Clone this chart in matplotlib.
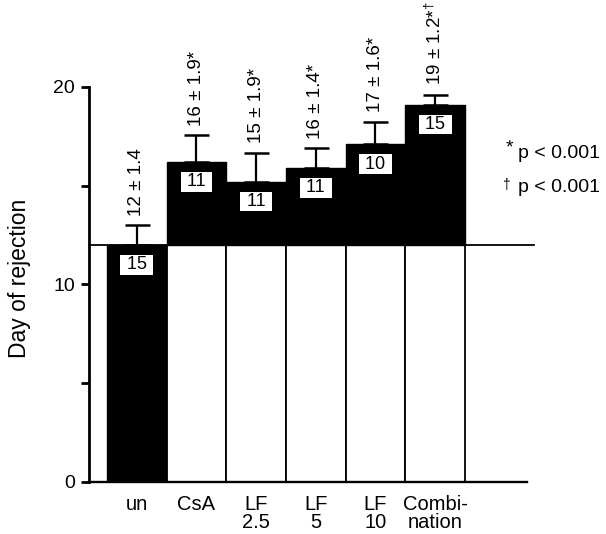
import numpy as np
import matplotlib
matplotlib.use("Agg")
import matplotlib.pyplot as plt

plt.rcParams['font.family'] = ['Liberation Sans', 'DejaVu Sans']
plt.rcParams['mathtext.fontset'] = 'custom'
plt.rcParams['mathtext.rm'] = 'Liberation Sans'
plt.rcParams['mathtext.it'] = 'Liberation Sans:italic'
plt.rcParams['mathtext.default'] = 'regular'

# ---- data ----
categories = ["un", "CsA", "LF\n2.5", "LF\n5", "LF\n10", "Combi-\nnation"]
days = [12.0, 16.2, 15.2, 15.9, 17.1, 19.1]          # bar heights (day of rejection)
err_up = [1.0, 1.35, 1.45, 1.0, 1.15, 0.5]           # drawn error bar (upper)
n_animals = [15, 11, 11, 11, 10, 15]
annotations = ["12 ± 1.4", "16 ± 1.9*", "15 ± 1.9*", "16 ± 1.4*", "17 ± 1.6*",
               "19 ± 1.2*$^{\\dagger}$"]
baseline = days[0]   # untreated mean: reference line

W, H = 606, 534
fig = plt.figure(figsize=(W / 100, H / 100), dpi=100)
ax = fig.add_axes([89 / W, 52 / H, (540 - 89) / W, 482 / H])
ax.set_xlim(-0.80, 6.758)
ax.set_ylim(0, 24.405)

x = np.arange(len(categories))

# bars: untreated fully black; treated white up to baseline, black above
for i, v in enumerate(days):
    if i == 0:
        ax.bar(x[i], v, width=1.0, color='black', edgecolor='black', linewidth=1.0, zorder=2)
    else:
        ax.bar(x[i], baseline, width=1.0, color='white', edgecolor='black', linewidth=1.3, zorder=2)
        ax.bar(x[i], v - baseline, bottom=baseline, width=1.0, color='black',
               edgecolor='black', linewidth=1.0, zorder=2)

# reference line at the untreated mean
ax.plot([-0.80, 6.66], [baseline, baseline], color='black', lw=1.3, zorder=3, clip_on=False)

# error bars
ax.errorbar(x, days, yerr=[np.zeros(len(days)), err_up], fmt='none', ecolor='black',
            elinewidth=1.6, capsize=9, capthick=1.8, zorder=4)

# n labels in white boxes
for xi, v, n in zip(x, days, n_animals):
    ax.text(xi, v - 1.0, f" {n} ", ha='center', va='center', fontsize=13, zorder=5,
            bbox=dict(boxstyle='square,pad=0.08', facecolor='white', edgecolor='none'))

# rotated mean ± SD annotations
for xi, v, e, t in zip(x, days, err_up, annotations):
    ax.annotate(t, xy=(xi, v + e), xytext=(0, 7), textcoords='offset points',
                rotation=90, ha='center', va='bottom', fontsize=13.5)

# axes styling
for s in ['top', 'right']:
    ax.spines[s].set_visible(False)
ax.spines['left'].set_linewidth(2.0)
ax.spines['left'].set_bounds(0, 20)
ax.spines['bottom'].set_linewidth(1.7)
ax.spines['bottom'].set_bounds(-0.80, 6.54)

ax.set_yticks([0, 10, 20])
ax.set_yticks([5, 15], minor=True)
ax.tick_params(axis='y', which='both', direction='out', length=6, width=2.0, pad=4,
               labelsize=14)
ax.set_xticks(x)
ax.set_xticklabels(categories, fontsize=14.5, linespacing=1.0)
ax.tick_params(axis='x', length=0, pad=9)

fig.text(20 / W, 1 - 278 / H, "Day of rejection", rotation=90, ha='center', va='center',
         fontsize=16.5)

# significance legend
fig.text(518 / W, 1 - 158 / H, "p < 0.001", ha='left', va='baseline', fontsize=14)
fig.text(518 / W, 1 - 192 / H, "p < 0.001", ha='left', va='baseline', fontsize=14)
fig.text(513 / W, 1 - 152 / H, "*", ha='right', va='baseline', fontsize=14)
fig.text(511 / W, 1 - 192 / H, "$^{\\dagger}$", ha='right', va='baseline', fontsize=14)

fig.savefig("out.png", dpi=100)
